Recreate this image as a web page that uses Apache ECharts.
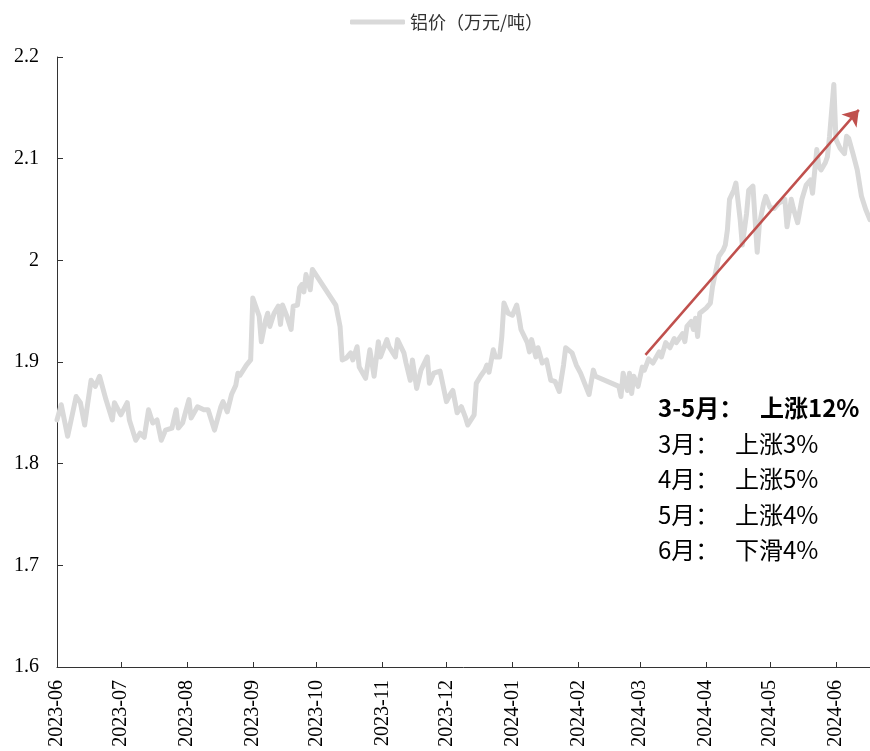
<!DOCTYPE html>
<html>
<head>
<meta charset="utf-8">
<script src="https://cdn.jsdelivr.net/npm/echarts@6/dist/echarts.min.js"></script>
<style>
  html, body { margin: 0; padding: 0; background: #fff; }
  #chart { width: 870px; height: 751px; }
</style>
</head>
<body>
<div id="chart"></div>
<script>
// 铝价（万元/吨），日期与价格
const dates = [
  '2023-06-01','2023-06-03','2023-06-06','2023-06-10','2023-06-12','2023-06-14','2023-06-15','2023-06-17','2023-06-19','2023-06-21',
  '2023-06-24','2023-06-27','2023-06-28','2023-07-01','2023-07-04','2023-07-05','2023-07-08','2023-07-10','2023-07-12','2023-07-14',
  '2023-07-16','2023-07-18','2023-07-20','2023-07-22','2023-07-25','2023-07-27','2023-07-28','2023-07-30','2023-08-02','2023-08-03',
  '2023-08-06','2023-08-09','2023-08-11','2023-08-14','2023-08-17','2023-08-18','2023-08-20','2023-08-22','2023-08-24','2023-08-25',
  '2023-08-26','2023-08-29','2023-08-31','2023-09-01','2023-09-04','2023-09-05','2023-09-07','2023-09-08','2023-09-09','2023-09-11',
  '2023-09-13','2023-09-14','2023-09-15','2023-09-17','2023-09-19','2023-09-20','2023-09-22','2023-09-23','2023-09-24','2023-09-25',
  '2023-09-26','2023-09-28','2023-09-29','2023-10-10','2023-10-12','2023-10-13','2023-10-15','2023-10-17','2023-10-18','2023-10-20',
  '2023-10-21','2023-10-24','2023-10-26','2023-10-28','2023-10-30','2023-10-31','2023-11-03','2023-11-04','2023-11-07','2023-11-08',
  '2023-11-11','2023-11-12','2023-11-14','2023-11-15','2023-11-17','2023-11-19','2023-11-22','2023-11-23','2023-11-25','2023-11-28',
  '2023-12-01','2023-12-03','2023-12-04','2023-12-06','2023-12-08','2023-12-10','2023-12-11','2023-12-14','2023-12-15','2023-12-17',
  '2023-12-19','2023-12-20','2023-12-21','2023-12-23','2023-12-24','2023-12-26','2023-12-27','2023-12-28','2023-12-30','2024-01-01',
  '2024-01-03','2024-01-04','2024-01-05','2024-01-08','2024-01-09','2024-01-10','2024-01-12','2024-01-13','2024-01-15','2024-01-17',
  '2024-01-19','2024-01-21','2024-01-23','2024-01-25','2024-01-26','2024-01-29','2024-01-31','2024-02-02','2024-02-06','2024-02-08',
  '2024-02-09','2024-02-20','2024-02-21','2024-02-22','2024-02-24','2024-02-25','2024-02-26','2024-02-27','2024-02-29','2024-03-02',
  '2024-03-03','2024-03-05','2024-03-07','2024-03-10','2024-03-11','2024-03-13','2024-03-15','2024-03-17','2024-03-18','2024-03-21',
  '2024-03-22','2024-03-23','2024-03-25','2024-03-26','2024-03-27','2024-03-28','2024-03-29','2024-04-01','2024-04-03','2024-04-04',
  '2024-04-06','2024-04-07','2024-04-09','2024-04-10','2024-04-11','2024-04-12','2024-04-14','2024-04-15','2024-04-17','2024-04-18',
  '2024-04-20','2024-04-21','2024-04-23','2024-04-24','2024-04-25','2024-04-26','2024-04-28','2024-04-29','2024-05-01','2024-05-03',
  '2024-05-05','2024-05-08','2024-05-09','2024-05-11','2024-05-12','2024-05-14','2024-05-16','2024-05-18','2024-05-20','2024-05-21',
  '2024-05-23','2024-05-24','2024-05-25','2024-05-27','2024-05-28','2024-05-29','2024-05-31','2024-06-01','2024-06-03','2024-06-05',
  '2024-06-06','2024-06-07','2024-06-09','2024-06-11','2024-06-12','2024-06-13','2024-06-15','2024-06-17'
]
const prices = [
  1.843,1.858,1.827,1.866,1.860,1.838,1.853,1.882,1.876,1.886,
  1.863,1.843,1.860,1.848,1.860,1.843,1.823,1.830,1.826,1.853,
  1.840,1.843,1.823,1.833,1.835,1.853,1.835,1.840,1.863,1.845,
  1.856,1.853,1.853,1.833,1.856,1.861,1.851,1.868,1.877,1.889,
  1.887,1.897,1.902,1.963,1.945,1.920,1.941,1.948,1.935,1.948,
  1.955,1.937,1.956,1.945,1.932,1.955,1.956,1.973,1.976,1.969,
  1.986,1.971,1.991,1.956,1.935,1.902,1.904,1.909,1.902,1.915,
  1.895,1.884,1.912,1.886,1.920,1.905,1.922,1.915,1.905,1.922,
  1.909,1.899,1.882,1.902,1.874,1.892,1.905,1.879,1.889,1.891,
  1.861,1.869,1.872,1.850,1.856,1.845,1.838,1.848,1.879,1.886,
  1.892,1.897,1.890,1.912,1.905,1.905,1.925,1.958,1.948,1.946,
  1.956,1.945,1.932,1.919,1.910,1.922,1.905,1.914,1.899,1.902,
  1.882,1.881,1.871,1.897,1.914,1.909,1.897,1.889,1.868,1.892,
  1.886,1.876,1.866,1.889,1.872,1.889,1.869,1.886,1.876,1.895,
  1.892,1.903,1.899,1.910,1.905,1.919,1.914,1.923,1.919,1.928,
  1.920,1.935,1.940,1.932,1.943,1.925,1.948,1.953,1.958,1.974,
  1.994,2.004,2.010,2.015,2.030,2.060,2.069,2.076,2.040,2.015,
  2.046,2.069,2.073,2.040,2.008,2.035,2.056,2.063,2.052,2.051,
  2.056,2.060,2.033,2.060,2.051,2.037,2.060,2.074,2.079,2.066,
  2.109,2.092,2.089,2.096,2.102,2.122,2.173,2.119,2.110,2.105,
  2.122,2.120,2.105,2.089,2.076,2.063,2.050,2.040
]
const seriesName = '铝价（万元/吨）'
const xMin = '2023-06-01'
const xMax = '2024-06-17'
const yMin = 1.6
const yMax = 2.2
const yStep = 0.1
// 趋势箭头（3月初 -> 6月中）
const arrowFrom = ['2024-03-03 12:00', 1.907]
const arrowTo = ['2024-06-11 18:00', 2.148]
const noteLines = [
  ['3-5月：', '上涨12%'],
  ['3月：', '上涨3%'],
  ['4月：', '上涨5%'],
  ['5月：', '上涨4%'],
  ['6月：', '下滑4%']
]

const chart = echarts.init(document.getElementById('chart'))

const noteText = noteLines
  .map((l, i) => i === 0 ? `{hb|${l[0]}}{b|${l[1]}}` : `{h|${l[0]}}{n|${l[1]}}`)
  .join('\n')

const serif = '"Liberation Serif", "Times New Roman", serif'
const cjk = '"Noto Sans CJK SC", sans-serif'

const option = {
  animation: false,
  legend: {
    data: [seriesName],
    left: 345,
    top: 8,
    icon: 'roundRect',
    itemWidth: 55,
    itemHeight: 5,
    itemGap: 6,
    textStyle: { fontFamily: cjk, fontSize: 18, color: '#333' }
  },
  grid: {
    left: 57,
    right: 0,
    top: 57,
    bottom: 84
  },
  xAxis: {
    type: 'time',
    min: xMin,
    max: xMax,
    splitNumber: 12,
    minInterval: 28 * 86400000,
    maxInterval: 31 * 86400000,
    axisLine: { lineStyle: { color: '#333', width: 1 } },
    axisTick: { inside: true, length: 5, lineStyle: { color: '#333' } },
    splitLine: { show: false },
    axisLabel: {
      rotate: 90,
      margin: 13,
      showMaxLabel: false,
      fontFamily: serif,
      fontSize: 20,
      color: '#000',
      formatter: '{yyyy}-{MM}'
    }
  },
  yAxis: {
    type: 'value',
    min: yMin,
    max: yMax,
    interval: yStep,
    axisLine: { show: true, lineStyle: { color: '#333', width: 1 } },
    axisTick: { show: true, inside: true, length: 6, lineStyle: { color: '#333' } },
    splitLine: { show: false },
    axisLabel: {
      margin: 18,
      fontFamily: serif,
      fontSize: 20,
      color: '#000'
    }
  },
  series: [
    {
      name: seriesName,
      type: 'line',
      data: dates.map((d, i) => [d, prices[i]]),
      showSymbol: false,
      symbol: 'none',
      itemStyle: { color: '#d9d9d9' },
      lineStyle: { color: '#d9d9d9', width: 5, join: 'round', cap: 'round' },
      markLine: {
        silent: true,
        symbol: ['none', 'arrow'],
        symbolSize: 15,
        label: { show: false },
        lineStyle: { color: '#c0504d', width: 2.5, type: 'solid' },
        data: [[{ coord: arrowFrom }, { coord: arrowTo }]]
      }
    }
  ],
  graphic: [
    {
      type: 'text',
      left: 658,
      top: 396,
      style: {
        text: noteText,
        fill: '#000',
        rich: {
          hb: { fontFamily: cjk, fontSize: 24, fontWeight: 'bold', width: 102, lineHeight: 35.5 },
          b: { fontFamily: cjk, fontSize: 24, fontWeight: 'bold', lineHeight: 35.5 },
          h: { fontFamily: cjk, fontSize: 24, width: 77, lineHeight: 35.5 },
          n: { fontFamily: cjk, fontSize: 24, lineHeight: 35.5 }
        }
      }
    }
  ]
}

chart.setOption(option)
</script>
</body>
</html>
